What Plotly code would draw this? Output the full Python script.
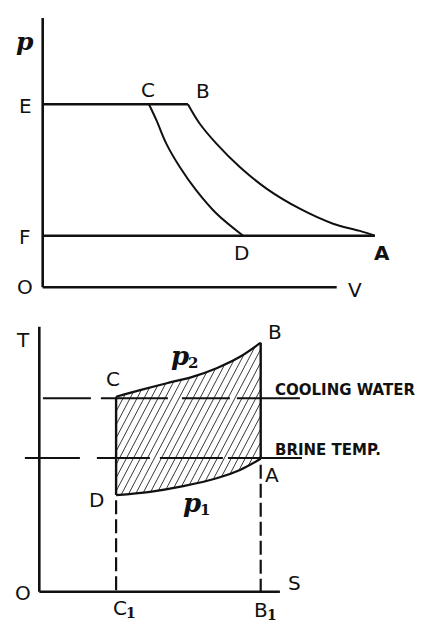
import numpy as np
import plotly.graph_objects as go

# ---------------- data: p-V diagram (top) ----------------
pv_axis_V = [0.0, 9.80]          # O -> V
pv_axis_p = [0.0, 8.98]          # O -> p
p_E = 6.10                        # upper pressure line E..B
p_F = 1.72                        # lower pressure line F..A
V_C, V_B, V_D, V_A = 3.54, 4.84, 6.68, 11.07

curve_CD_V = [3.54, 3.79, 4.12, 4.57, 5.12, 5.79, 6.68]
curve_CD_p = [6.10, 5.57, 4.79, 4.01, 3.23, 2.46, 1.72]
curve_BA_V = [4.84, 5.23, 5.79, 6.57, 7.46, 8.57, 9.68, 10.57, 11.07]
curve_BA_p = [6.10, 5.46, 4.79, 4.01, 3.29, 2.62, 2.12, 1.88, 1.72]

# ---------------- data: T-S diagram (bottom) ----------------
ts_axis_S = [0.0, 8.02]
ts_axis_T = [0.0, 8.83]
S_C, S_B = 2.56, 7.38
T_C, T_B, T_A, T_D = 6.50, 8.30, 4.43, 3.22
upper_S = [2.56, 3.36, 4.25, 5.13, 5.91, 6.69, 7.38]     # C -> B  (p2)
upper_T = [6.50, 6.72, 6.95, 7.17, 7.45, 7.83, 8.30]
lower_S = [2.56, 3.69, 4.80, 5.91, 6.69, 7.38]           # D -> A  (p1)
lower_T = [3.22, 3.33, 3.52, 3.78, 4.06, 4.43]
T_cool = 6.45
cool_S = [0.12, 8.69]
T_brine = 4.46
brine_S = [-0.48, 8.76]

BLACK = "#111111"
fig = go.Figure()

def line(x, y, ax, w=2.4, dash="solid", shape="linear", color=BLACK):
    xa, ya = ("x", "y") if ax == 1 else ("x2", "y2")
    fig.add_trace(go.Scatter(x=x, y=y, mode="lines", xaxis=xa, yaxis=ya,
                             line=dict(color=color, width=w, dash=dash, shape=shape),
                             hoverinfo="skip", showlegend=False))

# ---- top diagram ----
line(pv_axis_V, [0, 0], 1, 2.6)
line([0, 0], pv_axis_p, 1, 2.6)
line([0, V_B], [p_E, p_E], 1, 2.6)
line([0, V_A], [p_F, p_F], 1, 2.6)
line(curve_CD_V, curve_CD_p, 1, 2.0, shape="spline")
line(curve_BA_V, curve_BA_p, 1, 2.0, shape="spline")

# ---- bottom diagram: hatching ----
poly = list(zip(upper_S, upper_T)) + list(zip(lower_S[::-1], lower_T[::-1]))
poly.append(poly[0])
k = 1.9
hx, hy = [], []
for s0 in np.arange(-2.0, 5.7, 0.233):
    hits = []
    for (px, py), (qx, qy) in zip(poly[:-1], poly[1:]):
        dx, dy = qx - px, qy - py
        den = k * dx - dy
        if abs(den) < 1e-12:
            continue
        u = (py - k * (px - s0)) / den
        if 0 <= u < 1:
            hits.append((px + u * dx, py + u * dy))
    hits.sort(key=lambda t: t[1])
    for i in range(0, len(hits) - 1, 2):
        hx += [hits[i][0], hits[i + 1][0], None]
        hy += [hits[i][1], hits[i + 1][1], None]
fig.add_trace(go.Scatter(x=hx, y=hy, mode="lines", xaxis="x2", yaxis="y2",
                         line=dict(color="#3a3a3a", width=1.0),
                         hoverinfo="skip", showlegend=False))

# ---- bottom diagram: lines ----
line(ts_axis_S, [0, 0], 2, 2.6)
line([0, 0], ts_axis_T, 2, 2.6)
line(upper_S, upper_T, 2, 2.2, shape="spline")
line(lower_S, lower_T, 2, 2.2, shape="spline")
line([S_C, S_C], [T_C, T_D], 2, 2.4)
line([S_B, S_B], [T_B, T_A], 2, 2.4)
line(cool_S, [T_cool, T_cool], 2, 2.0, dash="48px,10px,67px,14px,48px,7px,63px")
line(brine_S, [T_brine, T_brine], 2, 2.0, dash="55px,17px,53px,10px,63px,5px,74px")
line([S_C, S_C], [T_D - 0.17, 0], 2, 2.2, dash="14px,5px")
line([S_B, S_B], [T_A - 0.2, 0], 2, 2.2, dash="14px,5px")

# ---- labels ----
SANS = "DejaVu Sans"
SERIF = "DejaVu Serif"
ann = []
def lab(text, x, y, ax, size=20, family=SANS, xanchor="center",
        weight="normal", style="normal"):
    ann.append(dict(text=text, x=x, y=y, xref="x" if ax == 1 else "x2",
                    yref="y" if ax == 1 else "y2", showarrow=False,
                    xanchor=xanchor, yanchor="middle",
                    font=dict(family=family, size=size, color=BLACK,
                              weight=weight, style=style)))

lab("p", -0.59, 8.20, 1, 25, SERIF, weight="bold", style="italic")
lab("E", -0.56, 6.04, 1)
lab("F", -0.59, 1.68, 1)
lab("O", -0.59, 0.01, 1)
lab("C", 3.51, 6.58, 1)
lab("B", 5.34, 6.55, 1)
lab("D", 6.64, 1.14, 1)
lab("A", 11.31, 1.14, 1, weight="bold")
lab("V", 10.41, -0.09, 1)

lab("T", -0.54, 8.39, 2)
lab("O", -0.54, -0.04, 2)
lab("S", 8.52, 0.29, 2)
lab("C", 2.46, 7.09, 2)
lab("B", 7.86, 8.66, 2)
lab("A", 7.76, 3.89, 2)
lab("D", 1.92, 3.06, 2)
lab("C", 2.70, -0.55, 2)
lab("1", 3.07, -0.72, 2, 14, SERIF, weight="bold")
lab("B", 7.38, -0.60, 2)
lab("1", 7.76, -0.78, 2, 14, SERIF, weight="bold")
lab("p", 4.70, 7.86, 2, 26, SERIF, weight="bold", style="italic")
lab("2", 5.12, 7.62, 2, 15, SERIF, weight="bold")
lab("p", 5.10, 2.96, 2, 26, SERIF, weight="bold", style="italic")
lab("1", 5.52, 2.72, 2, 15, SERIF, weight="bold")
lab("COOLING WATER", 7.79, 6.72, 2, 15, xanchor="left", weight="bold")
lab("BRINE TEMP.", 7.79, 4.71, 2, 15, xanchor="left", weight="bold")

u = 30.0
ax_common = dict(visible=False, fixedrange=True)
fig.update_layout(
    width=433, height=637, autosize=False,
    margin=dict(l=0, r=0, t=0, b=0),
    paper_bgcolor="white", plot_bgcolor="white",
    annotations=ann,
    xaxis=dict(domain=[0, 1], range=[-42.7 / u, (433 - 42.7) / u], anchor="y", **ax_common),
    yaxis=dict(domain=[0.5, 1], range=[(287.3 - 318.5) / u, 287.3 / u], anchor="x", **ax_common),
    xaxis2=dict(domain=[0, 1], range=[-39.3 / u, (433 - 39.3) / u], anchor="y2", **ax_common),
    yaxis2=dict(domain=[0, 0.5], range=[(591.7 - 637) / u, (591.7 - 318.5) / u], anchor="x2", **ax_common),
)
fig.write_html("out.html", config={"displayModeBar": False},
               post_script="document.body.style.margin='0';document.body.style.padding='0';document.body.style.overflow='hidden';")
